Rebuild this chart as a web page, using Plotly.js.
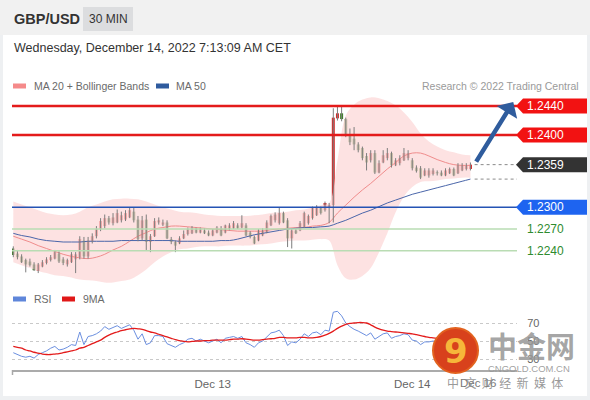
<!DOCTYPE html>
<html><head><meta charset="utf-8">
<script src="https://cdn.plot.ly/plotly-3.0.1.min.js"></script>
<style>html,body{margin:0;padding:0;background:#fff}#chart{width:590px;height:400px}</style>
</head><body><div id="chart"></div>
<script>
// ---------------- DATA ----------------
const symbol = "GBP/USD";
const timeframe = "30 MIN";
const stamp = "Wednesday, December 14, 2022 7:13:09 AM CET";
const startUTC = Date.UTC(2022, 11, 12, 0, 0, 0);
const stepMinutes = 30;

const openP = [
 1.2243,1.2236,1.2232,1.2227,1.2225,1.2221,1.2212,1.2218,1.2223,1.2227,
 1.2229,1.2236,1.2228,1.2221,1.2224,1.2228,1.2231,1.2254,1.2232,1.2253,
 1.2260,1.2270,1.2274,1.2285,1.2278,1.2279,1.2282,1.2283,1.2286,1.2294,
 1.2283,1.2257,1.2283,1.2252,1.2260,1.2279,1.2276,1.2279,1.2256,1.2252,
 1.2250,1.2257,1.2263,1.2264,1.2271,1.2265,1.2268,1.2265,1.2261,1.2265,
 1.2271,1.2265,1.2270,1.2271,1.2275,1.2272,1.2275,1.2265,1.2259,1.2254,
 1.2261,1.2265,1.2275,1.2282,1.2278,1.2292,1.2282,1.2257,1.2268,1.2268,
 1.2272,1.2278,1.2285,1.2289,1.2299,1.2296,1.2299,1.2303,1.2423,1.2430,
 1.2422,1.2400,1.2395,1.2387,1.2382,1.2371,1.2365,1.2375,1.2348,1.2362,
 1.2368,1.2375,1.2358,1.2361,1.2365,1.2368,1.2365,1.2355,1.2354,1.2344,
 1.2344,1.2346,1.2348,1.2348,1.2344,1.2347,1.2353,1.2347,1.2351,1.2353,
 1.2353];
const highP = [
 1.2246,1.2241,1.2235,1.2229,1.2229,1.2224,1.2223,1.2227,1.2231,1.2234,
 1.2241,1.2239,1.2231,1.2229,1.2238,1.2238,1.2260,1.2259,1.2259,1.2264,
 1.2274,1.2285,1.2290,1.2288,1.2292,1.2297,1.2294,1.2296,1.2300,1.2299,
 1.2288,1.2288,1.2290,1.2263,1.2285,1.2286,1.2283,1.2282,1.2259,1.2254,
 1.2260,1.2268,1.2272,1.2274,1.2272,1.2272,1.2271,1.2268,1.2270,1.2274,
 1.2274,1.2276,1.2278,1.2281,1.2278,1.2289,1.2278,1.2267,1.2261,1.2270,
 1.2271,1.2282,1.2290,1.2293,1.2300,1.2294,1.2285,1.2271,1.2270,1.2281,
 1.2294,1.2290,1.2301,1.2303,1.2301,1.2308,1.2306,1.2437,1.2441,1.2440,
 1.2424,1.2409,1.2411,1.2390,1.2384,1.2375,1.2379,1.2379,1.2365,1.2379,
 1.2382,1.2377,1.2368,1.2372,1.2382,1.2379,1.2368,1.2358,1.2357,1.2354,
 1.2354,1.2354,1.2351,1.2351,1.2354,1.2355,1.2355,1.2361,1.2361,1.2361,
 1.2362];
const lowP = [
 1.2231,1.2228,1.2223,1.2210,1.2218,1.2212,1.2209,1.2217,1.2221,1.2225,
 1.2228,1.2223,1.2220,1.2218,1.2223,1.2209,1.2228,1.2229,1.2229,1.2250,
 1.2257,1.2267,1.2271,1.2276,1.2275,1.2278,1.2279,1.2281,1.2285,1.2279,
 1.2253,1.2254,1.2241,1.2238,1.2259,1.2276,1.2274,1.2256,1.2249,1.2238,
 1.2249,1.2256,1.2261,1.2263,1.2264,1.2264,1.2263,1.2260,1.2260,1.2264,
 1.2260,1.2264,1.2268,1.2270,1.2270,1.2271,1.2260,1.2257,1.2249,1.2253,
 1.2260,1.2264,1.2274,1.2279,1.2276,1.2278,1.2245,1.2243,1.2263,1.2267,
 1.2271,1.2276,1.2283,1.2288,1.2290,1.2294,1.2278,1.2279,1.2420,1.2419,
 1.2397,1.2386,1.2379,1.2376,1.2365,1.2351,1.2362,1.2346,1.2347,1.2361,
 1.2365,1.2355,1.2357,1.2358,1.2364,1.2365,1.2351,1.2348,1.2339,1.2343,
 1.2341,1.2344,1.2344,1.2343,1.2343,1.2346,1.2343,1.2346,1.2350,1.2351,
 1.2351];
const closeP = [
 1.2234,1.2231,1.2224,1.2221,1.2220,1.2213,1.2221,1.2224,1.2228,1.2231,
 1.2238,1.2225,1.2223,1.2227,1.2235,1.2235,1.2256,1.2232,1.2254,1.2260,
 1.2270,1.2281,1.2285,1.2279,1.2286,1.2292,1.2289,1.2292,1.2296,1.2282,
 1.2256,1.2282,1.2252,1.2260,1.2281,1.2282,1.2279,1.2257,1.2252,1.2247,
 1.2257,1.2263,1.2270,1.2271,1.2265,1.2271,1.2264,1.2261,1.2268,1.2272,
 1.2261,1.2275,1.2275,1.2278,1.2271,1.2278,1.2261,1.2259,1.2250,1.2268,
 1.2268,1.2279,1.2288,1.2290,1.2292,1.2279,1.2257,1.2268,1.2264,1.2278,
 1.2292,1.2288,1.2299,1.2300,1.2292,1.2306,1.2303,1.2424,1.2430,1.2422,
 1.2400,1.2390,1.2387,1.2379,1.2368,1.2362,1.2375,1.2348,1.2361,1.2372,
 1.2375,1.2358,1.2365,1.2368,1.2375,1.2375,1.2354,1.2350,1.2341,1.2351,
 1.2351,1.2351,1.2347,1.2344,1.2351,1.2353,1.2344,1.2358,1.2358,1.2358,
 1.2359];

// indicator lines sampled every 2 candles (candle index 0,2,4,...,110)
const indicatorStep = 2;
const ma20 = [
 1.2260,1.2256,1.2252,1.2247,1.2243,1.2239,1.2235,1.2232,1.2230,1.2229,
 1.2231,1.2235,1.2241,1.2246,1.2253,1.2260,1.2265,1.2270,1.2272,1.2274,
 1.2274,1.2273,1.2272,1.2271,1.2270,1.2269,1.2268,1.2267,1.2267,1.2267,
 1.2267,1.2269,1.2270,1.2271,1.2272,1.2272,1.2274,1.2275,1.2279,1.2292,
 1.2303,1.2314,1.2324,1.2333,1.2343,1.2353,1.2362,1.2371,1.2375,1.2375,
 1.2371,1.2366,1.2362,1.2359,1.2358,1.2358];
const ma50 = [
 1.2264,1.2261,1.2259,1.2256,1.2254,1.2253,1.2252,1.2252,1.2252,1.2253,
 1.2253,1.2253,1.2253,1.2254,1.2254,1.2254,1.2254,1.2254,1.2254,1.2254,
 1.2253,1.2253,1.2253,1.2253,1.2253,1.2254,1.2254,1.2256,1.2259,1.2262,
 1.2264,1.2266,1.2268,1.2270,1.2271,1.2272,1.2272,1.2273,1.2274,1.2278,
 1.2282,1.2287,1.2292,1.2296,1.2301,1.2306,1.2310,1.2314,1.2318,1.2321,
 1.2324,1.2327,1.2330,1.2333,1.2336,1.2339];
const bbUpper = [
 1.2308,1.2304,1.2300,1.2296,1.2292,1.2290,1.2289,1.2290,1.2294,1.2300,
 1.2304,1.2308,1.2311,1.2312,1.2312,1.2311,1.2308,1.2304,1.2300,1.2297,
 1.2294,1.2293,1.2292,1.2290,1.2289,1.2288,1.2288,1.2288,1.2288,1.2289,
 1.2290,1.2292,1.2293,1.2294,1.2296,1.2297,1.2300,1.2303,1.2306,1.2365,
 1.2427,1.2442,1.2449,1.2452,1.2451,1.2447,1.2441,1.2431,1.2418,1.2402,
 1.2391,1.2384,1.2379,1.2376,1.2373,1.2372];
const bbLower = [
 1.2224,1.2220,1.2216,1.2212,1.2209,1.2206,1.2205,1.2203,1.2200,1.2199,
 1.2198,1.2196,1.2196,1.2198,1.2200,1.2206,1.2214,1.2224,1.2232,1.2238,
 1.2242,1.2243,1.2245,1.2246,1.2246,1.2246,1.2247,1.2247,1.2247,1.2248,
 1.2249,1.2250,1.2252,1.2253,1.2254,1.2254,1.2255,1.2256,1.2254,1.2220,
 1.2202,1.2200,1.2205,1.2216,1.2238,1.2264,1.2293,1.2315,1.2328,1.2335,
 1.2336,1.2337,1.2339,1.2340,1.2341,1.2341];

const rsi = [
 37,35,33,32,33,31,35,37,39,42,
 44,40,41,43,46,45,60,46,55,56,
 58,61,66,63,65,67,64,66,68,62,
 52,58,46,48,56,56,55,47,45,43,
 46,48,52,53,50,52,50,48,50,52,
 48,53,54,55,53,55,48,46,43,48,
 50,55,59,60,62,56,45,49,48,52,
 58,55,59,60,57,62,61,82,83,78,
 70,66,63,61,58,56,59,52,55,58,
 59,53,55,56,58,57,51,50,46,49,
 49,50,49,48,50,51,48,53,54,55,
 56];
const rsiMa9 = [
 44,43,42,40,39,37.5,36.5,35.5,35,35,
 35.5,36,37,38,39,40,42,43,45,47,
 49,51,54,56.5,58.5,60,61.5,62.5,63.5,64,
 63.5,63,61.5,60,59,57.5,56,54.5,53,51.5,
 50.5,49.5,49,49.5,50,50,50.5,50.5,51,51,
 51,51,51.5,52,52,52.5,52,51.5,51,51,
 51.5,52,52.5,53,54,54,53.5,53.5,53.5,54,
 54,53.5,53.5,54,55,56.5,58.5,61,64,66.5,
 68.5,69.5,70,70.5,70.5,70,68,65.5,63.5,62,
 61,60.5,60,59.5,59,58.5,58,57,56,55,
 54,53.5,53,52.5,52,51.5,51,51,51,51.5,
 52];

const levels = [1.2440, 1.2400, 1.2300, 1.2270, 1.2240];
const levelLabels = ["1.2440", "1.2400", "1.2300", "1.2270", "1.2240"];
const lastPrice = 1.2359;
const lastPriceLabel = "1.2359";
const xTickText = ["Dec 13", "Dec 14"];
const xTickIdx = [48, 96];
const rsiTicks = [30, 50, 70];
const rsiTickText = ["30", "50", "70"];

// ---------------- HELPERS ----------------
const W = 590, H = 400;
const px = x => x / W;
const py = y => 1 - y / H;
function tAt(i) {
  const d = new Date(startUTC + i * stepMinutes * 60000);
  return d.toISOString().slice(0, 23).replace('T', ' ');
}
const times = openP.map((_, i) => tAt(i));
const indTimes = ma20.map((_, k) => tAt(k * indicatorStep));
const xRange = [tAt(-0.31), tAt(121.2)];
const yRange = [1.219253, 1.245533];
const pricePerPx = (yRange[1] - yRange[0]) / 190;
const FONT = "Liberation Sans, Arial, sans-serif";
const UP = '#d42b2b', DOWN = '#3c7d24';

// wicks
const wx = [], wy = [];
times.forEach((t, i) => { wx.push(t, t, null); wy.push(highP[i], lowP[i], null); });
// bodies
const bodyBase = openP.map((o, i) => Math.min(o, closeP[i]));
const bodyLen = openP.map((o, i) => Math.max(Math.abs(closeP[i] - o), pricePerPx * 1.2));
const bodyColor = openP.map((o, i) => closeP[i] >= o ? UP : DOWN);

const traces = [
  {type: 'scatter', mode: 'lines', x: indTimes, y: bbLower, line: {width: 0, shape: 'spline', smoothing: 1}, hoverinfo: 'skip', xaxis: 'x', yaxis: 'y'},
  {type: 'scatter', mode: 'lines', x: indTimes, y: bbUpper, fill: 'tonexty', fillcolor: 'rgba(252,216,216,0.75)', line: {width: 0, shape: 'spline', smoothing: 1}, hoverinfo: 'skip'},
  {type: 'scatter', mode: 'lines', x: indTimes, y: ma20, line: {color: '#f08c8c', width: 1, shape: 'spline'}, hoverinfo: 'skip'},
  {type: 'scatter', mode: 'lines', x: indTimes, y: ma50, line: {color: '#4a66aa', width: 1, shape: 'spline'}, hoverinfo: 'skip'},
  {type: 'scatter', mode: 'lines', x: wx, y: wy, line: {color: '#7d7d7d', width: 1}, hoverinfo: 'skip', connectgaps: false},
  {type: 'bar', x: times, y: bodyLen, base: bodyBase, width: 0.72 * stepMinutes * 60000,
   marker: {color: bodyColor, line: {width: 0}}, hoverinfo: 'skip'},
  {type: 'scatter', mode: 'lines', x: times, y: rsi, xaxis: 'x2', yaxis: 'y2', line: {color: '#6b8fe0', width: 1}, hoverinfo: 'skip'},
  {type: 'scatter', mode: 'lines', x: times, y: rsiMa9, xaxis: 'x2', yaxis: 'y2', line: {color: '#e31b1b', width: 1.3, shape: 'spline'}, hoverinfo: 'skip'}
];

const shapes = [];
const annotations = [];
function note(x, y, text, font, xa, ya, extra) {
  annotations.push(Object.assign({xref: 'paper', yref: 'paper', x: px(x), y: py(y), xanchor: xa || 'left', yanchor: ya || 'middle', text: text, showarrow: false, font: font}, extra || {}));
}
// backgrounds
shapes.push({type: 'rect', xref: 'paper', yref: 'paper', x0: px(3), x1: px(587), y0: py(396), y1: py(35), fillcolor: '#ffffff', line: {width: 0}, layer: 'below'});
shapes.push({type: 'rect', xref: 'paper', yref: 'paper', x0: 0, x1: 1, y0: py(35), y1: 1, fillcolor: '#f1f1f1', line: {width: 0}, layer: 'below'});
shapes.push({type: 'rect', xref: 'paper', yref: 'paper', x0: px(83), x1: px(133), y0: py(31), y1: py(7), fillcolor: '#dcdddf', line: {width: 0}, layer: 'below'});

note(12, 19.5, '<b>' + symbol + '</b>', {family: FONT, size: 14.5, color: '#333'});
note(108, 19.5, timeframe, {family: FONT, size: 12, color: '#333'}, 'center');
note(12, 48, stamp, {family: FONT, size: 12.5, color: '#333'});

// legends
function legendItem(x, y, color, label, tx) {
  shapes.push({type: 'rect', xref: 'paper', yref: 'paper', x0: px(x), x1: px(x + 13), y0: py(y + 2.5), y1: py(y - 2.5), fillcolor: color, line: {width: 0}});
  note(tx, y, label, {family: FONT, size: 10.5, color: '#6a6a6a'});
}
legendItem(13, 86, '#f58a8a', 'MA 20 + Bollinger Bands', 32);
legendItem(156, 86, '#2f5b9e', 'MA 50', 174);
legendItem(13, 299, '#5f86da', 'RSI', 32);
legendItem(62, 299, '#e01818', '9MA', 81);
note(581, 86, 'Research © 2022 Trading Central', {family: FONT, size: 10.5, color: '#9a9a9a'}, 'right');

// level lines and tags
const lineColors = ['#e41b1b', '#e41b1b', '#2453b4', '#b9dcb3', '#b9dcb3'];
const lineWidths = [2.5, 2.5, 1.5, 1.5, 1.5];
const tagColors = ['#f21212', '#f21212', '#1e64f0', null, null];
const textColors = ['#ffffff', '#ffffff', '#ffffff', '#2e8b2e', '#2e8b2e'];
function tagPath(p, h, c) {
  shapes.push({type: 'path', xref: 'paper', yref: 'y', layer: 'above', fillcolor: c, line: {width: 0},
    path: `M${px(516)},${p} L${px(523)},${p + h} L${px(587)},${p + h} L${px(587)},${p - h} L${px(523)},${p - h} Z`});
}
levels.forEach((lv, k) => {
  shapes.push({type: 'line', xref: 'paper', yref: 'y', x0: px(12), x1: px(517), y0: lv, y1: lv, line: {color: lineColors[k], width: lineWidths[k]}, layer: 'above'});
  if (tagColors[k]) tagPath(lv, 7.5 * pricePerPx, tagColors[k]);
  annotations.push({xref: 'paper', yref: 'y', x: px(525), y: lv, xanchor: 'left', yanchor: 'middle', text: levelLabels[k], showarrow: false, font: {family: FONT, size: 12, color: textColors[k]}});
});
// last price dotted + tag
const lastIdx = closeP.length - 1;
shapes.push({type: 'line', xref: 'x', yref: 'y', x0: tAt(lastIdx + 1), x1: tAt(121.2), y0: lastPrice, y1: lastPrice, line: {color: '#8a8a8a', width: 1, dash: 'dot'}});
shapes.push({type: 'line', xref: 'x', yref: 'y', x0: tAt(lastIdx + 1), x1: tAt(121.2), y0: ma50[ma50.length - 1], y1: ma50[ma50.length - 1], line: {color: '#8a8a8a', width: 1, dash: 'dot'}});
tagPath(lastPrice, 7.5 * pricePerPx, '#333333');
annotations.push({xref: 'paper', yref: 'y', x: px(525), y: lastPrice, xanchor: 'left', yanchor: 'middle', text: lastPriceLabel, showarrow: false, font: {family: FONT, size: 12, color: '#ffffff'}});

// forecast arrow
annotations.push({xref: 'x', yref: 'y', x: tAt(120.3), y: 1.24455, text: '', showarrow: true, arrowhead: 1, arrowsize: 0.9, arrowwidth: 4.5, arrowcolor: '#2f5c9d', ax: -38, ay: 61, standoff: 0, startstandoff: 0});

// x axis end tick
shapes.push({type: 'line', xref: 'paper', yref: 'paper', x0: px(12.5), x1: px(12.5), y0: py(370), y1: py(375), line: {color: '#a8a8a8', width: 1.5}});

// watermark
shapes.push({type: 'circle', xref: 'paper', yref: 'paper', x0: px(433), x1: px(478), y0: py(373), y1: py(328), fillcolor: '#d8411c', line: {color: '#e2621f', width: 2}, layer: 'above'});
note(456, 351, '<b>9</b>', {family: 'DejaVu Sans, sans-serif', size: 34, color: '#f6b73a'}, 'center');
note(478, 383, 'Dec 16', {family: FONT, size: 11.5, color: '#777'}, 'center');
note(531, 345, '<b>中金网</b>', {family: 'Noto Sans CJK SC, sans-serif', size: 29, color: 'rgba(150,150,150,0.85)'}, 'center');
note(529, 368, 'CNGOLD.COM.CN', {family: FONT, size: 9.5, color: 'rgba(150,150,150,0.9)'}, 'center');
note(505, 382, '中 &nbsp;文 &nbsp;财 &nbsp;经 &nbsp;新 &nbsp;媒 &nbsp;体', {family: 'Noto Sans CJK SC, sans-serif', size: 12, color: 'rgba(140,140,140,0.9)'}, 'center');

const layout = {
  width: W, height: H,
  margin: {l: 0, r: 0, t: 0, b: 0},
  paper_bgcolor: '#eef0f2', plot_bgcolor: 'rgba(0,0,0,0)',
  showlegend: false,
  xaxis: {domain: [px(12), px(517)], range: xRange, type: 'date', anchor: 'y', showticklabels: false, showgrid: false, zeroline: false, showline: false, fixedrange: true},
  yaxis: {domain: [py(285), py(95)], range: yRange, anchor: 'x', showticklabels: false, showgrid: false, zeroline: false, showline: false, fixedrange: true},
  xaxis2: {domain: [px(12), px(517)], range: xRange, type: 'date', anchor: 'y2', matches: 'x',
    showline: true, linecolor: '#ababab', linewidth: 2, showgrid: false, zeroline: false,
    tickmode: 'array', tickvals: xTickIdx.map(tAt), ticktext: xTickText, ticks: 'outside', ticklen: 2, tickcolor: 'rgba(0,0,0,0)',
    tickfont: {family: FONT, size: 11.5, color: '#666'}},
  yaxis2: {domain: [py(370), py(305)], range: [17.78, 90], anchor: 'x2', side: 'right',
    tickmode: 'array', tickvals: rsiTicks, ticktext: rsiTickText, showgrid: true, gridcolor: '#c9c9c9', griddash: 'dot', gridwidth: 1,
    zeroline: false, showline: false, ticks: 'outside', ticklen: 7, tickcolor: 'rgba(0,0,0,0)',
    tickfont: {family: FONT, size: 11, color: '#666'}},
  shapes: shapes,
  annotations: annotations
};
Plotly.newPlot('chart', traces, layout, {staticPlot: true, displayModeBar: false});
</script>
</body></html>
